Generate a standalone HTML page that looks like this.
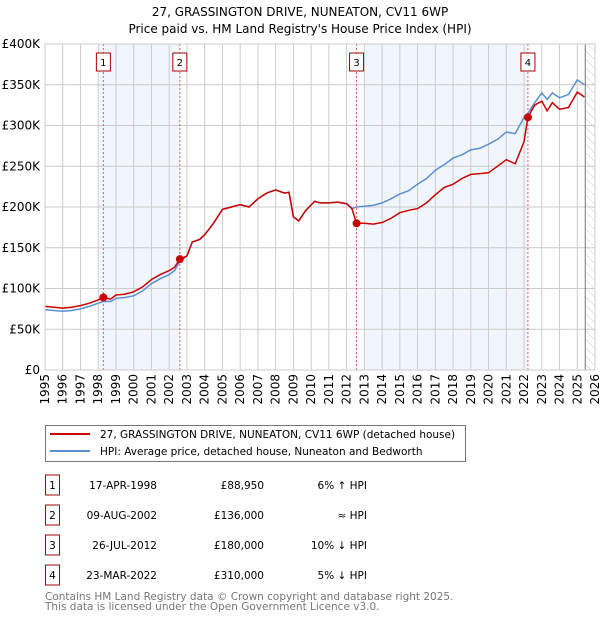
<!DOCTYPE html>
<html><head><meta charset="utf-8"><style>
body{margin:0;background:#fff;font-family:"DejaVu Sans","Liberation Sans",sans-serif;}
svg text{font-family:"DejaVu Sans","Liberation Sans",sans-serif;}
</style></head><body>
<svg id="chart" width="600" height="620" xmlns="http://www.w3.org/2000/svg">
<text x="300" y="16" text-anchor="middle" font-size="12">27, GRASSINGTON DRIVE, NUNEATON, CV11 6WP</text>
<text x="300" y="33" text-anchor="middle" font-size="12">Price paid vs. HM Land Registry's House Price Index (HPI)</text>
<g id="plot"></g>
<g>
<rect x="45.5" y="425.5" width="420" height="36" fill="#fff" stroke="#777"/>
<line x1="50" y1="434" x2="90" y2="434" stroke="#cc0000" stroke-width="2"/>
<text x="100" y="438" font-size="10.5">27, GRASSINGTON DRIVE, NUNEATON, CV11 6WP (detached house)</text>
<line x1="50" y1="451" x2="90" y2="451" stroke="#5b8fd4" stroke-width="2"/>
<text x="100" y="455" font-size="10.5">HPI: Average price, detached house, Nuneaton and Bedworth</text>
</g>
<g id="table" font-size="10.5"></g>
<text x="45" y="600" font-size="10.5" fill="#777">Contains HM Land Registry data © Crown copyright and database right 2025.</text>
<text x="45" y="610" font-size="10.5" fill="#777">This data is licensed under the Open Government Licence v3.0.</text>
</svg>
<script>
const yTicks=[0,50,100,150,200,250,300,350,400];
const yTickLabels=["£0","£50K","£100K","£150K","£200K","£250K","£300K","£350K","£400K"];
const xYears=[1995,1996,1997,1998,1999,2000,2001,2002,2003,2004,2005,2006,2007,2008,2009,2010,2011,2012,2013,2014,2015,2016,2017,2018,2019,2020,2021,2022,2023,2024,2025,2026];
const redT=[1995,1995.5,1996,1996.5,1997,1997.5,1998,1998.29,1998.7,1999,1999.5,2000,2000.5,2001,2001.5,2002,2002.3,2002.6,2003,2003.3,2003.7,2004,2004.5,2005,2005.5,2006,2006.5,2007,2007.5,2008,2008.5,2008.75,2009,2009.3,2009.7,2010.2,2010.5,2011,2011.5,2012,2012.3,2012.56,2013,2013.5,2014,2014.5,2015,2015.5,2016,2016.5,2017,2017.5,2018,2018.5,2019,2019.5,2020,2020.5,2021,2021.5,2022,2022.22,2022.6,2023,2023.3,2023.6,2024,2024.5,2025,2025.4];
const redV=[78,77,76,77,79,82,86,88.95,87,92,93,96,102,111,117,122,126,136,140,157,160,166,180,197,200,203,200,210,217,221,217,218,188,183,196,207,205,205,206,204,198,180,180,179,181,186,193,196,198,205,215,224,228,235,240,241,242,250,258,253,280,310,325,330,318,328,320,322,341,335];
const hpiT=[1995,1995.5,1996,1996.5,1997,1997.5,1998,1998.29,1998.7,1999,1999.5,2000,2000.5,2001,2001.5,2002,2002.3,2002.6,2003,2003.3,2003.7,2004,2004.5,2005,2005.5,2006,2006.5,2007,2007.5,2008,2008.5,2008.75,2009,2009.3,2009.7,2010.2,2010.5,2011,2011.5,2012,2012.3,2012.56,2013,2013.5,2014,2014.5,2015,2015.5,2016,2016.5,2017,2017.5,2018,2018.5,2019,2019.5,2020,2020.5,2021,2021.5,2022,2022.22,2022.6,2023,2023.3,2023.6,2024,2024.5,2025,2025.4];
const hpiV=[74,73,72,73,75,78,82,84,84,88,89,91,97,106,112,117,122,133,140,157,160,166,180,197,200,203,200,210,217,221,217,218,188,183,196,207,205,205,206,204,198,200,201,202,205,210,216,220,228,235,245,252,260,264,270,272,277,283,292,290,310,315,328,340,332,340,334,338,356,350];
const saleT=[1998.29,2002.6,2012.56,2022.22];
const saleV=[88.95,136,180,310];
const saleLabels=["1","2","3","4"];
const saleDates=["17-APR-1998","09-AUG-2002","26-JUL-2012","23-MAR-2022"];
const salePrices=["£88,950","£136,000","£180,000","£310,000"];
const saleRel=["6% ↑ HPI","≈ HPI","10% ↓ HPI","5% ↓ HPI"];
const shadeFrom=[1998.0,2013.0];
const shadeTo=[2002.6,2022.22];

const X0=45,X1=595,Y0=370,Y1=44;
const xs=t=>X0+(t-1995)/(2026-1995)*(X1-X0);
const ys=v=>Y0-v/400*(Y0-Y1);
const NS="http://www.w3.org/2000/svg";
const plot=document.getElementById('plot');
function mk(tag,attrs,parent){const e=document.createElementNS(NS,tag);for(const k in attrs)e.setAttribute(k,attrs[k]);(parent||plot).appendChild(e);return e;}

let e=mk('rect',{x:X0,y:Y1,width:X1-X0,height:Y0-Y1,fill:'#fff'});


for(let i=0;i<shadeFrom.length;i++){
  e=mk('rect',{x:xs(shadeFrom[i]),y:Y1,width:xs(shadeTo[i])-xs(shadeFrom[i]),height:Y0-Y1,fill:'#eef3fd',opacity:0.8});
  
  
}
const defs=mk('defs',{});
const pat=mk('pattern',{id:'hatch',width:6,height:6,patternUnits:'userSpaceOnUse',patternTransform:'rotate(-45)'},defs);
mk('line',{x1:0,y1:0,x2:0,y2:6,stroke:'#ccc','stroke-width':1},pat);
e=mk('rect',{x:xs(2025.45),y:Y1,width:X1-xs(2025.45),height:Y0-Y1,fill:'url(#hatch)'});


for(let i=0;i<yTicks.length;i++){
  e=mk('line',{x1:X0,x2:X1,y1:ys(yTicks[i]),y2:ys(yTicks[i]),stroke:'#ccc','stroke-width':1});
  
  
  e=mk('text',{x:40,y:ys(yTicks[i])+4,'text-anchor':'end','font-size':12});
  e.textContent=yTickLabels[i];
  
  
}
for(const yr of xYears){
  e=mk('line',{x1:xs(yr),x2:xs(yr),y1:Y1,y2:Y0,stroke:'#ccc','stroke-width':1});
  
  
  e=mk('text',{x:0,y:0,'font-size':12,'text-anchor':'end',transform:`translate(${xs(yr)+4},374) rotate(-90)`});
  e.textContent=yr;
  
  
}
e=mk('line',{x1:xs(2025.45),x2:xs(2025.45),y1:Y1,y2:Y0,stroke:'#777','stroke-width':1});


for(let i=0;i<saleT.length;i++){
  e=mk('line',{x1:xs(saleT[i]),x2:xs(saleT[i]),y1:Y1,y2:Y0,stroke:'#e06060','stroke-width':1,'stroke-dasharray':'2,2'});
  
  
}
const pts=(T,V)=>T.map((t,i)=>xs(t).toFixed(1)+','+ys(V[i]).toFixed(1)).join(' ');
e=mk('polyline',{points:pts(hpiT,hpiV),fill:'none',stroke:'#5b8fd4','stroke-width':1.5});


e=mk('polyline',{points:pts(redT,redV),fill:'none',stroke:'#cc0000','stroke-width':1.5});


for(let i=0;i<saleT.length;i++){
  e=mk('circle',{cx:xs(saleT[i]),cy:ys(saleV[i]),r:4,fill:'#cc0000'});
  
  
  const bx=xs(saleT[i])-7;
  e=mk('rect',{x:bx,y:53,width:14,height:18,fill:'#fff',stroke:'#aa0000'});
  
  
  e=mk('text',{x:xs(saleT[i]),y:66,'text-anchor':'middle','font-size':10});
  e.textContent=saleLabels[i];
  
  
}
e=mk('rect',{x:X0,y:Y1,width:X1-X0,height:Y0-Y1,fill:'none',stroke:'#ccc'});



const tbl=document.getElementById('table');
for(let i=0;i<saleT.length;i++){
  const y=483+i*30;
  const g=mk('g',{},tbl);
  
  
  mk('rect',{x:45.5,y:y-8,width:14,height:20,fill:'#fff',stroke:'#aa0000'},g);
  let t=mk('text',{x:52.5,y:y+6,'text-anchor':'middle'},g);t.textContent=saleLabels[i];
  t=mk('text',{x:157,y:y+6,'text-anchor':'end'},g);t.textContent=saleDates[i];
  t=mk('text',{x:264,y:y+6,'text-anchor':'end'},g);t.textContent=salePrices[i];
  t=mk('text',{x:367,y:y+6,'text-anchor':'end'},g);t.textContent=saleRel[i];
}
</script>
</body></html>
